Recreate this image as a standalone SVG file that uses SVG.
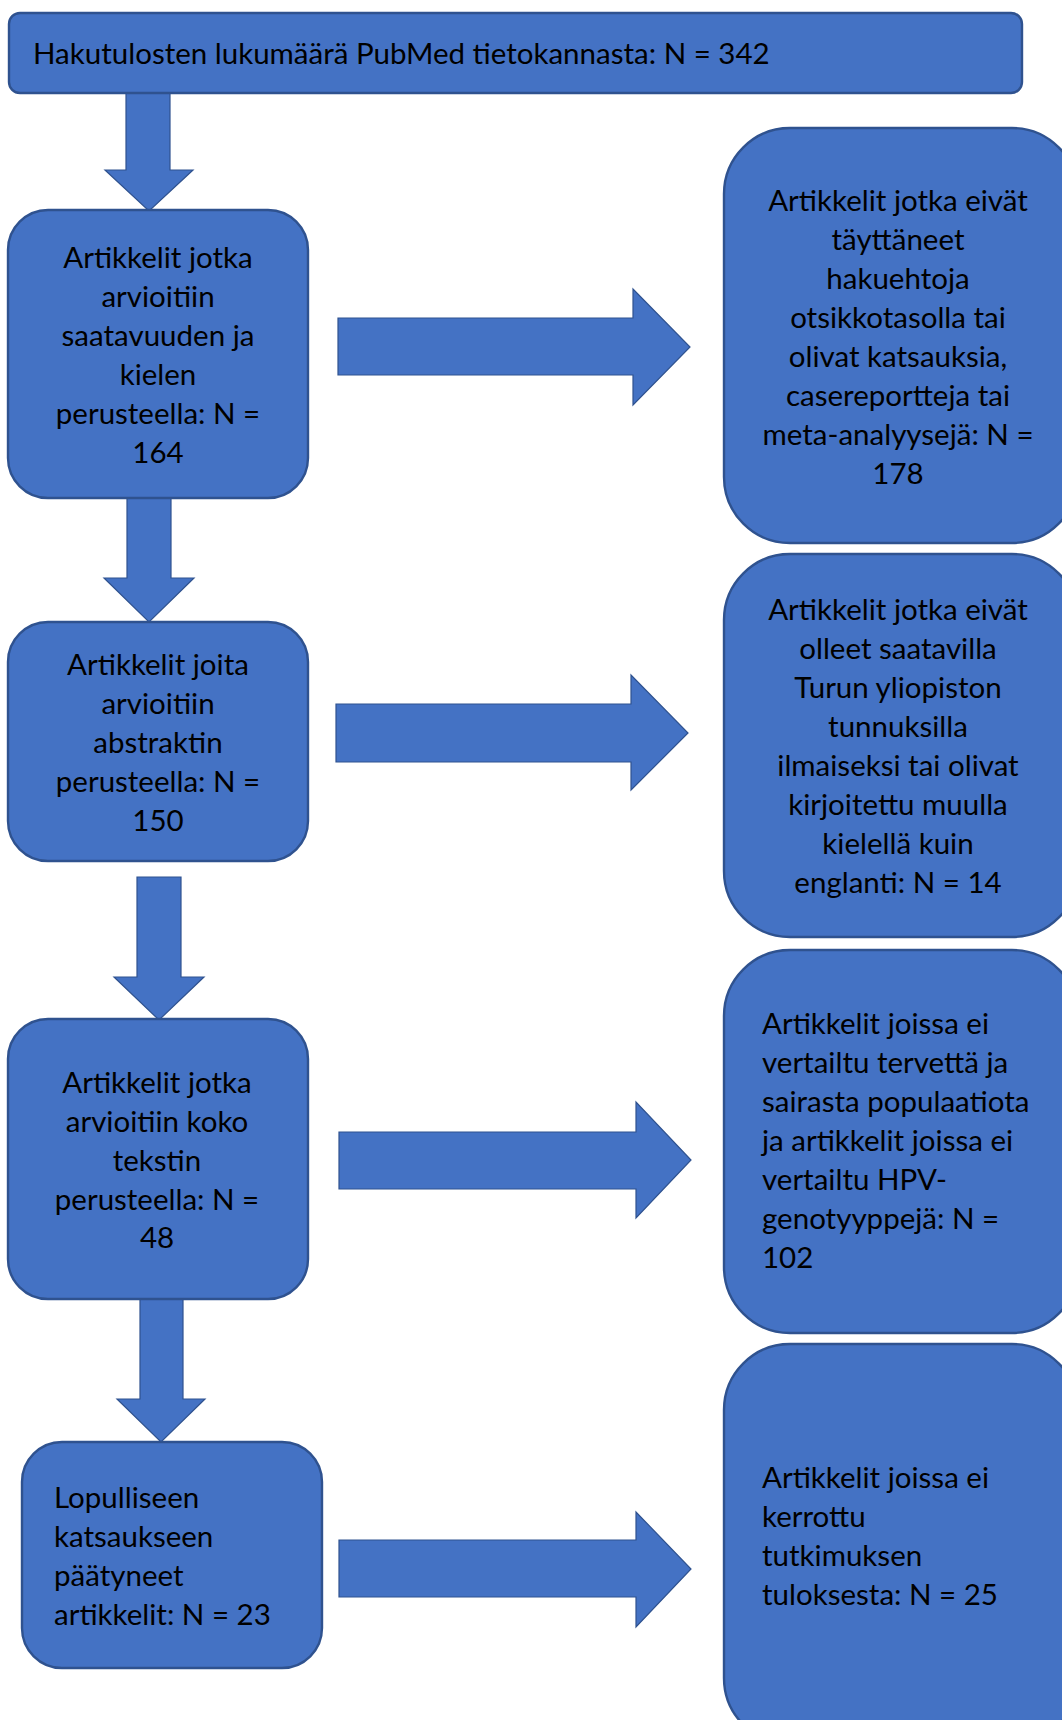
<svg xmlns="http://www.w3.org/2000/svg" width="1062" height="1720" viewBox="0 0 1062 1720">
<style>
.box{fill:#4472C4;stroke:#2F528F;stroke-width:2.4}
.arr{fill:#4472C4;stroke:#2F528F;stroke-width:1.2}
text{font-family:Lato,"Liberation Sans",sans-serif;font-size:29.5px;fill:#000}
.c{text-anchor:middle}
</style>
<rect width="1062" height="1720" fill="#fff"/>
<g id="connectors">
<polygon class="arr" points="126,93 170,93 170,170 193,170 149,211 105,170 126,170"/>
<polygon class="arr" points="127,498 171,498 171,578 194,578 149,622 104,578 127,578"/>
<polygon class="arr" points="137,877 181,877 181,977 204,977 159,1020 114,977 137,977"/>
<polygon class="arr" points="140,1299 183,1299 183,1399 205,1399 161,1442 117,1399 140,1399"/>
<polygon class="arr" points="338,318 633,318 633,289 690,347 633,405 633,375 338,375"/>
<polygon class="arr" points="336,704 631,704 631,675 688,733 631,790 631,762 336,762"/>
<polygon class="arr" points="339,1132 636,1132 636,1102 691,1160 636,1218 636,1189 339,1189"/>
<polygon class="arr" points="339,1540 636,1540 636,1512 691,1569 636,1627 636,1597 339,1597"/>
</g>
<g id="n0">
<rect class="box" x="9" y="13" width="1013" height="80" rx="11"/>
<text x="33" y="64">Hakutulosten lukumäärä PubMed tietokannasta: N = 342</text>
</g>
<g id="n1">
<rect class="box" x="8" y="210" width="300" height="288" rx="40"/>
<text class="c" x="158" y="268">Artikkelit jotka</text>
<text class="c" x="158" y="307">arvioitiin</text>
<text class="c" x="158" y="346">saatavuuden ja</text>
<text class="c" x="158" y="385">kielen</text>
<text class="c" x="158" y="424">perusteella: N =</text>
<text class="c" x="158" y="463">164</text>
</g>
<g id="n2">
<rect class="box" x="8" y="622" width="300" height="239" rx="40"/>
<text class="c" x="158" y="675">Artikkelit joita</text>
<text class="c" x="158" y="714">arvioitiin</text>
<text class="c" x="158" y="753">abstraktin</text>
<text class="c" x="158" y="792">perusteella: N =</text>
<text class="c" x="158" y="831">150</text>
</g>
<g id="n3">
<rect class="box" x="8" y="1019" width="300" height="280" rx="40"/>
<text class="c" x="157" y="1093">Artikkelit jotka</text>
<text class="c" x="157" y="1132">arvioitiin koko</text>
<text class="c" x="157" y="1171">tekstin</text>
<text class="c" x="157" y="1210">perusteella: N =</text>
<text class="c" x="157" y="1248">48</text>
</g>
<g id="n4">
<rect class="box" x="22" y="1442" width="300" height="226" rx="40"/>
<text x="54" y="1508">Lopulliseen</text>
<text x="54" y="1547">katsaukseen</text>
<text x="54" y="1586">päätyneet</text>
<text x="54" y="1625">artikkelit: N = 23</text>
</g>
<g id="r1">
<rect class="box" x="724" y="128" width="354" height="415" rx="66"/>
<text class="c" x="898" y="211">Artikkelit jotka eivät</text>
<text class="c" x="898" y="250">täyttäneet</text>
<text class="c" x="898" y="289">hakuehtoja</text>
<text class="c" x="898" y="328">otsikkotasolla tai</text>
<text class="c" x="898" y="367">olivat katsauksia,</text>
<text class="c" x="898" y="406">casereportteja tai</text>
<text class="c" x="898" y="445">meta-analyysejä: N =</text>
<text class="c" x="898" y="484">178</text>
</g>
<g id="r2">
<rect class="box" x="724" y="554" width="354" height="383" rx="66"/>
<text class="c" x="898" y="620">Artikkelit jotka eivät</text>
<text class="c" x="898" y="659">olleet saatavilla</text>
<text class="c" x="898" y="698">Turun yliopiston</text>
<text class="c" x="898" y="737">tunnuksilla</text>
<text class="c" x="898" y="776">ilmaiseksi tai olivat</text>
<text class="c" x="898" y="815">kirjoitettu muulla</text>
<text class="c" x="898" y="854">kielellä kuin</text>
<text class="c" x="898" y="893">englanti: N = 14</text>
</g>
<g id="r3">
<rect class="box" x="724" y="950" width="354" height="383" rx="66"/>
<text x="762" y="1034">Artikkelit joissa ei</text>
<text x="762" y="1073">vertailtu tervettä ja</text>
<text x="762" y="1112">sairasta populaatiota</text>
<text x="762" y="1151">ja artikkelit joissa ei</text>
<text x="762" y="1190">vertailtu HPV-</text>
<text x="762" y="1229">genotyyppejä: N =</text>
<text x="762" y="1268">102</text>
</g>
<g id="r4">
<rect class="box" x="724" y="1344" width="354" height="400" rx="66"/>
<text x="762" y="1488">Artikkelit joissa ei</text>
<text x="762" y="1527">kerrottu</text>
<text x="762" y="1566">tutkimuksen</text>
<text x="762" y="1605">tuloksesta: N = 25</text>
</g>
</svg>
